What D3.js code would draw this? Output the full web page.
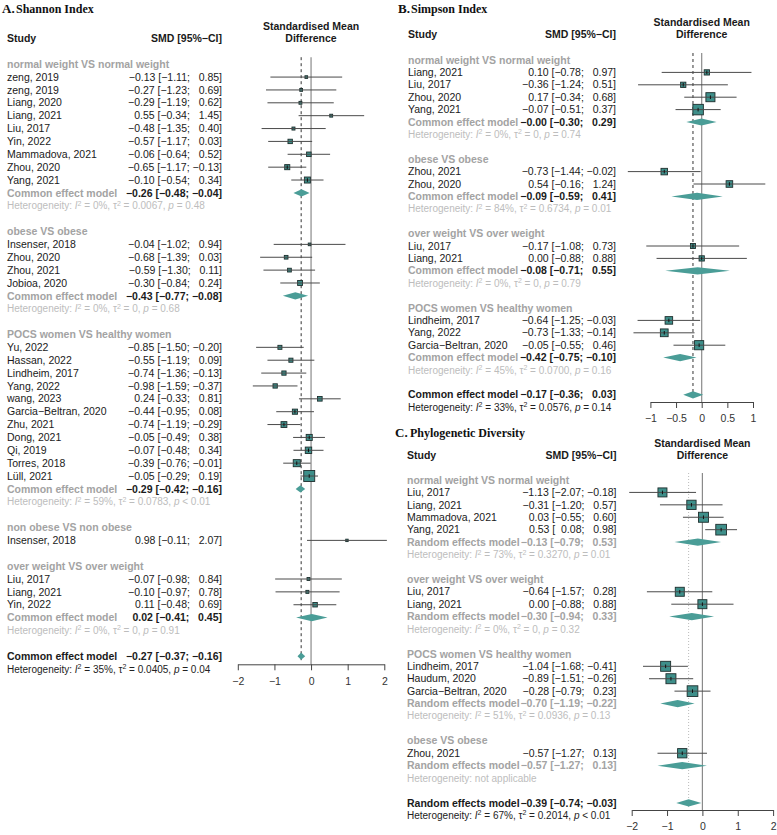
<!DOCTYPE html>
<html><head><meta charset="utf-8">
<script src="https://cdn.jsdelivr.net/npm/d3@7"></script>
<style>body{margin:0;background:#fff}svg{display:block}text{white-space:pre}</style>
</head><body><svg id="c" width="777" height="835"></svg>
<script>
// ---------- Panel A: Shannon Index ----------
const shannonGroups = ["normal weight VS normal weight","obese VS obese","POCS women VS healthy women","non obese VS non obese","over weight VS over weight"];
const shannonStudy = ["zeng, 2019","zeng, 2019","Liang, 2020","Liang, 2021","Liu, 2017","Yin, 2022","Mammadova, 2021","Zhou, 2020","Yang, 2021",
  "Insenser, 2018","Zhou, 2020","Zhou, 2021","Jobioa, 2020",
  "Yu, 2022","Hassan, 2022","Lindheim, 2017","Yang, 2022","wang, 2023","Garcia\u2212Beltran, 2020","Zhu, 2021","Dong, 2021","Qi, 2019","Torres, 2018","Lüll, 2021",
  "Insenser, 2018",
  "Liu, 2017","Liang, 2021","Yin, 2022"];
const shannonGroupIdx = [0,0,0,0,0,0,0,0,0, 1,1,1,1, 2,2,2,2,2,2,2,2,2,2,2, 3, 4,4,4];
const shannonSMD   = [-0.13,-0.27,-0.29,0.55,-0.48,-0.57,-0.06,-0.65,-0.10, -0.04,-0.68,-0.59,-0.30, -0.85,-0.55,-0.74,-0.98,0.24,-0.44,-0.74,-0.05,-0.07,-0.39,-0.05, 0.98, -0.07,-0.10,0.11];
const shannonLower = [-1.11,-1.23,-1.19,-0.34,-1.35,-1.17,-0.64,-1.17,-0.54, -1.02,-1.39,-1.30,-0.84, -1.50,-1.19,-1.36,-1.59,-0.33,-0.95,-1.19,-0.49,-0.48,-0.76,-0.29, -0.11, -0.98,-0.97,-0.48];
const shannonUpper = [0.85,0.69,0.62,1.45,0.40,0.03,0.52,-0.13,0.34, 0.94,0.03,0.11,0.24, -0.20,0.09,-0.13,-0.37,0.81,0.08,-0.29,0.38,0.34,-0.01,0.19, 2.07, 0.84,0.78,0.69];
const shannonWeight = [1.1,1.2,1.3,1.3,1.4,3.0,3.2,4.0,5.6, 1.1,2.1,2.2,3.7, 2.5,2.6,2.8,2.9,3.3,4.1,5.3,5.7,6.4,7.7,18.7, 0.9, 1.3,1.4,3.1];
const shannonPooledSMD   = [-0.26,-0.43,-0.29,null,0.02];
const shannonPooledLower = [-0.48,-0.77,-0.42,null,-0.41];
const shannonPooledUpper = [-0.04,-0.08,-0.16,null,0.45];
const shannonI2   = ["0%","0%","59%",null,"0%"];
const shannonTau2 = ["0.0067","0","0.0783",null,"0"];
const shannonP    = ["0.48","0.68","< 0.01",null,"0.91"];
const shannonOverall = [-0.27,-0.37,-0.16];
const shannonOverallHet = ["35%","0.0405","0.04"];
const shannonTicks = [-2,-1,0,1,2];

// ---------- Panel B: Simpson Index ----------
const simpsonGroups = ["normal weight VS normal weight","obese VS obese","over weight VS over weight","POCS women VS healthy women"];
const simpsonStudy = ["Liang, 2021","Liu, 2017","Zhou, 2020","Yang, 2021", "Zhou, 2021","Zhou, 2020", "Liu, 2017","Liang, 2021", "Lindheim, 2017","Yang, 2022","Garcia\u2212Beltran, 2020"];
const simpsonGroupIdx = [0,0,0,0, 1,1, 2,2, 3,3,3];
const simpsonSMD   = [0.10,-0.36,0.17,-0.07, -0.73,0.54, -0.17,0.00, -0.64,-0.73,-0.05];
const simpsonLower = [-0.78,-1.24,-0.34,-0.51, -1.44,-0.16, -1.08,-0.88, -1.25,-1.33,-0.55];
const simpsonUpper = [0.97,0.51,0.68,0.37, -0.02,1.24, 0.73,0.88, -0.03,-0.14,0.46];
const simpsonWeight = [4.7,4.7,13.9,18.7, 7.2,7.4, 4.4,4.7, 9.7,10.2,14.2];
const simpsonPooledSMD   = [-0.004,-0.09,-0.08,-0.42];
const simpsonPooledLower = [-0.30,-0.59,-0.71,-0.75];
const simpsonPooledUpper = [0.29,0.41,0.55,-0.10];
const simpsonI2   = ["0%","84%","0%","45%"];
const simpsonTau2 = ["0","0.6734","0","0.0700"];
const simpsonP    = ["0.74","0.01","0.79","0.16"];
const simpsonOverall = [-0.17,-0.36,0.03];
const simpsonOverallHet = ["33%","0.0576","0.14"];
const simpsonTicks = [-1,-0.5,0,0.5,1];

// ---------- Panel C: Phylogenetic Diversity ----------
const pdGroups = ["normal weight VS normal weight","over weight VS over weight","POCS women VS healthy women","obese VS obese"];
const pdStudy = ["Liu, 2017","Liang, 2021","Mammadova, 2021","Yang, 2021", "Liu, 2017","Liang, 2021", "Lindheim, 2017","Haudum, 2020","Garcia\u2212Beltran, 2020", "Zhou, 2021"];
const pdGroupIdx = [0,0,0,0, 1,1, 2,2,2, 3];
const pdSMD   = [-1.13,-0.31,0.03,0.53, -0.64,0.00, -1.04,-0.89,-0.28, -0.57];
const pdLower = [-2.07,-1.20,-0.55,0.08, -1.57,-0.88, -1.68,-1.51,-0.79, -1.27];
const pdUpper = [-0.18,0.57,0.60,0.98, 0.28,0.88, -0.41,-0.26,0.23, 0.13];
const pdWeight = [7.8,8.3,9.6,11.0, 7.8,7.8, 9.6,9.6,11.0, 8.3];
const pdPooledSMD   = [-0.13,-0.30,-0.70,-0.57];
const pdPooledLower = [-0.79,-0.94,-1.19,-1.27];
const pdPooledUpper = [0.53,0.33,-0.22,0.13];
const pdI2   = ["73%","0%","51%",null];
const pdTau2 = ["0.3270","0","0.0936",null];
const pdP    = ["0.01","0.32","0.13",null];
const pdOverall = [-0.39,-0.74,-0.03];
const pdOverallHet = ["67%","0.2014","< 0.01"];
const pdTicks = [-2,-1,0,1,2];

// ---------- drawing ----------
const FONT = "'Liberation Sans', Arial, Helvetica, sans-serif";
const SERIF = "'Liberation Serif', 'Times New Roman', serif";
const SQ_FILL = "#3e8f8a", DIA_FILL = "#4a9d97";
const GRAY_LAB = "#a3a3a3", GRAY_HET = "#bdbdbd", INK = "#1a1a1a";
const svg = d3.select("#c");

const fmt = v => (v < 0 || Object.is(v,-0) ? "\u2212" : "") + Math.abs(v).toFixed(2);
const fmtCI = v => (v < 0 ? "\u2212" : "\u2007") + Math.abs(v).toFixed(2);
const ciLabel = (e,l,u) => `${fmt(e)} [${fmtCI(l)}; ${fmtCI(u)}]`;

function hetText(t, I2, tau2, p) {
  t.append("tspan").text("Heterogeneity: ");
  if (I2 === null) { t.append("tspan").text("not applicable"); return; }
  t.append("tspan").attr("font-style","italic").text("I");
  t.append("tspan").attr("dy",-3.5).attr("font-size","0.7em").text("2");
  t.append("tspan").attr("dy",3.5).text(" = " + I2 + ", \u03c4");
  t.append("tspan").attr("dy",-3.5).attr("font-size","0.7em").text("2");
  t.append("tspan").attr("dy",3.5).text(" = " + tau2 + ", ");
  t.append("tspan").attr("font-style","italic").text("p");
  t.append("tspan").text(p.startsWith("<") ? " " + p : " = " + p);
}

function drawPanel(P) {
  const g = svg.append("g").attr("font-family", FONT);
  const x = d3.scaleLinear().domain(P.domain).range(P.range);
  const y = d3.scaleLinear().domain([0,1]).range([P.row0, P.row0 + P.rowStep]);
  const size = d3.scaleSqrt().domain([0, d3.max(P.weight)]).range([0, P.maxSide]);

  const rows = [];
  let r = 0;
  P.groups.forEach((name, gi) => {
    rows.push({type:"group", r:r++, label:name});
    P.study.forEach((s,i) => {
      if (P.groupIdx[i] === gi) rows.push({type:"study", r:r++, label:s, e:P.smd[i], l:P.lower[i], u:P.upper[i], w:P.weight[i]});
    });
    if (P.pooledSMD[gi] !== null) {
      rows.push({type:"pooled", r:r++, e:P.pooledSMD[gi], l:P.pooledLower[gi], u:P.pooledUpper[gi]});
      rows.push({type:"het", r:r++, I2:P.I2[gi], tau2:P.tau2[gi], p:P.p[gi]});
    }
    r++;
  });
  const overallRow = r;
  rows.push({type:"overall", r:r++, e:P.overall[0], l:P.overall[1], u:P.overall[2]});
  rows.push({type:"overallHet", r:r++, I2:P.overallHet[0], tau2:P.overallHet[1], p:P.overallHet[2]});

  // titles
  svg.append("text").attr("x", P.titleX).attr("y", P.titleY).attr("font-family", SERIF).attr("font-weight","bold").attr("fill","#111")
    .attr("font-size", 13).text(P.letter);
  svg.append("text").attr("x", P.titleX2).attr("y", P.titleY).attr("font-family", SERIF).attr("font-weight","bold").attr("fill","#111")
    .attr("font-size", 12).text(P.title);

  // headers
  g.append("text").attr("x", P.studyX).attr("y", P.headY).attr("dy","0.35em").attr("font-size",10.5).attr("font-weight","bold").attr("fill",INK).text("Study");
  g.append("text").attr("x", P.valueX).attr("y", P.headY).attr("dy","0.35em").attr("font-size",10.5).attr("font-weight","bold").attr("fill",INK).attr("text-anchor","end").text("SMD [95%\u2212CI]");
  g.append("text").attr("x", x(0)).attr("y", P.headY - 12).attr("dy","0.35em").attr("font-size",10.5).attr("font-weight","bold").attr("fill",INK).attr("text-anchor","middle").text("Standardised Mean");
  g.append("text").attr("x", x(0)).attr("y", P.headY).attr("dy","0.35em").attr("font-size",10.5).attr("font-weight","bold").attr("fill",INK).attr("text-anchor","middle").text("Difference");

  // reference lines
  const top = y(0) - 7;
  g.append("line").attr("x1", x(0)).attr("x2", x(0)).attr("y1", top).attr("y2", P.axisY).attr("stroke","#8a8a8a").attr("stroke-width",1.2);
  g.append("line").attr("x1", x(P.overall[0])).attr("x2", x(P.overall[0])).attr("y1", top).attr("y2", y(overallRow) + 5)
    .attr("stroke", P.refStyle === "dotted" ? "#bbbbbb" : "#333").attr("stroke-width", 1)
    .attr("stroke-dasharray", P.refStyle === "dotted" ? "1,2" : "3,3");

  // axis
  const ax = g.append("g").attr("transform", `translate(0,${P.axisY})`)
    .call(d3.axisBottom(x).tickValues(P.ticks).tickSize(6).tickSizeOuter(0).tickPadding(7).tickFormat(d3.format("")));
  ax.select(".domain").attr("stroke","#444");
  ax.selectAll(".tick line").attr("stroke","#444");
  ax.selectAll(".tick text").attr("font-size",10.5).attr("font-family",FONT).attr("fill","#333");

  rows.forEach(d => {
    const yy = y(d.r);
    if (d.type === "group") {
      g.append("text").attr("x",P.studyX).attr("y",yy).attr("dy","0.35em").attr("font-size",10.5).attr("font-weight","bold").attr("fill",GRAY_LAB).text(d.label);
    } else if (d.type === "study") {
      g.append("text").attr("x",P.studyX).attr("y",yy).attr("dy","0.35em").attr("font-size",10.5).attr("fill",INK).text(d.label);
      g.append("text").attr("x",P.valueX).attr("y",yy).attr("dy","0.35em").attr("font-size",10.5).attr("fill",INK).attr("text-anchor","end").text(ciLabel(d.e,d.l,d.u));
      const s = size(d.w);
      g.append("rect").attr("x", x(d.e) - s/2).attr("y", yy - s/2).attr("width", s).attr("height", s)
        .attr("fill", SQ_FILL).attr("stroke","#1e2e2d").attr("stroke-width",0.9);
      g.append("line").attr("x1",x(d.l)).attr("x2",x(d.u)).attr("y1",yy).attr("y2",yy).attr("stroke","#4a4a4a").attr("stroke-width",1);
      if (s > 5) g.append("line").attr("x1",x(d.e)).attr("x2",x(d.e)).attr("y1",yy-1.8).attr("y2",yy+1.8).attr("stroke","#111").attr("stroke-width",1);
    } else if (d.type === "pooled" || d.type === "overall") {
      const ov = d.type === "overall";
      g.append("text").attr("x",P.studyX).attr("y",yy).attr("dy","0.35em").attr("font-size",10.5).attr("font-weight","bold").attr("fill", ov ? INK : GRAY_LAB).text(P.model);
      g.append("text").attr("x",P.valueX).attr("y",yy).attr("dy","0.35em").attr("font-size",10.5).attr("font-weight","bold")
        .attr("fill", ov ? INK : P.subValColor).attr("text-anchor","end").text(ciLabel(d.e,d.l,d.u));
      const h = 3.6;
      g.append("path").attr("d", `M${x(d.l)},${yy}L${x(d.e)},${yy-h}L${x(d.u)},${yy}L${x(d.e)},${yy+h}Z`).attr("fill", DIA_FILL);
    } else {
      const t = g.append("text").attr("x",P.studyX).attr("y",yy).attr("dy","0.35em").attr("font-size",10)
        .attr("fill", d.type === "overallHet" ? "#222" : GRAY_HET);
      hetText(t, d.I2, d.tau2, d.p);
    }
  });
}

drawPanel({letter:"A.", title:"Shannon Index", titleX:2, titleX2:16, titleY:13,
  studyX:7, valueX:222, headY:38.5, domain:[-2,2], range:[237.8,384.3], ticks:shannonTicks,
  row0:64.2, rowStep:12.87, axisY:664.3, maxSide:11, model:"Common effect model", subValColor:INK, refStyle:"dashed",
  groups:shannonGroups, study:shannonStudy, groupIdx:shannonGroupIdx, smd:shannonSMD, lower:shannonLower, upper:shannonUpper, weight:shannonWeight,
  pooledSMD:shannonPooledSMD, pooledLower:shannonPooledLower, pooledUpper:shannonPooledUpper, I2:shannonI2, tau2:shannonTau2, p:shannonP,
  overall:shannonOverall, overallHet:shannonOverallHet});

drawPanel({letter:"B.", title:"Simpson Index", titleX:398, titleX2:411, titleY:13,
  studyX:408, valueX:616, headY:34.5, domain:[-1,1], range:[650.4,753], ticks:simpsonTicks,
  row0:60, rowStep:12.4, axisY:402, maxSide:10.5, model:"Common effect model", subValColor:INK, refStyle:"dashed",
  groups:simpsonGroups, study:simpsonStudy, groupIdx:simpsonGroupIdx, smd:simpsonSMD, lower:simpsonLower, upper:simpsonUpper, weight:simpsonWeight,
  pooledSMD:simpsonPooledSMD, pooledLower:simpsonPooledLower, pooledUpper:simpsonPooledUpper, I2:simpsonI2, tau2:simpsonTau2, p:simpsonP,
  overall:simpsonOverall, overallHet:simpsonOverallHet});

drawPanel({letter:"C.", title:"Phylogenetic Diversity", titleX:395, titleX2:410, titleY:437,
  studyX:407, valueX:616.5, headY:455, domain:[-2,2], range:[631.7,773.1], ticks:pdTicks,
  row0:480, rowStep:12.42, axisY:810, maxSide:10.7, model:"Random effects model", subValColor:GRAY_LAB, refStyle:"dotted",
  groups:pdGroups, study:pdStudy, groupIdx:pdGroupIdx, smd:pdSMD, lower:pdLower, upper:pdUpper, weight:pdWeight,
  pooledSMD:pdPooledSMD, pooledLower:pdPooledLower, pooledUpper:pdPooledUpper, I2:pdI2, tau2:pdTau2, p:pdP,
  overall:pdOverall, overallHet:pdOverallHet});
</script></body></html>
